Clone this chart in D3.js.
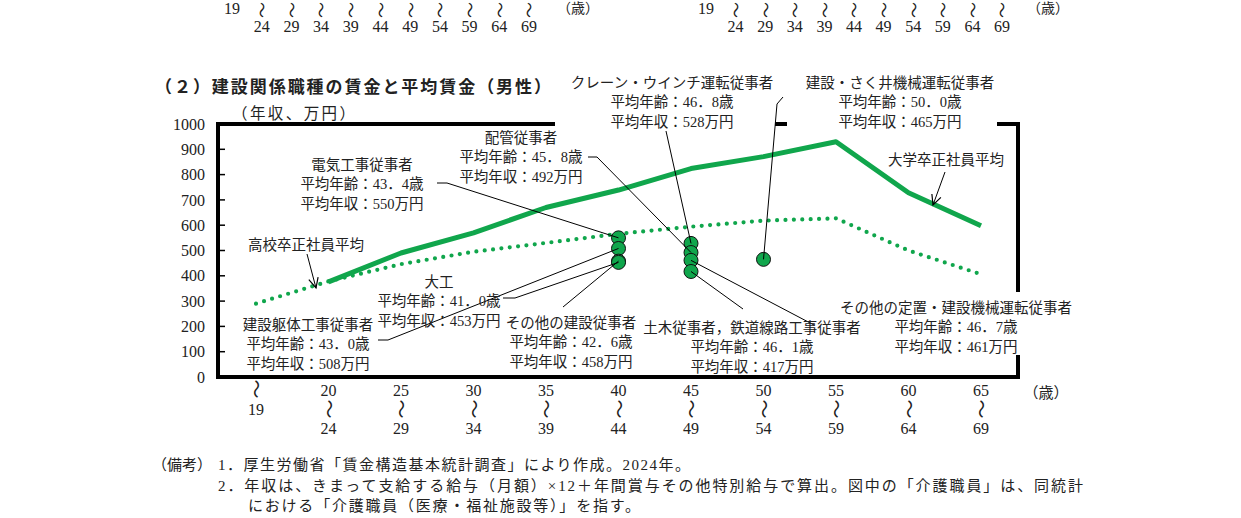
<!DOCTYPE html>
<html><head><meta charset="utf-8">
<script src="https://cdn.jsdelivr.net/npm/d3@7"></script>
<style>
html,body{margin:0;padding:0;background:#fff;overflow:hidden;}
svg{display:block;}
text{font-family:"Liberation Serif","Noto Sans CJK JP",serif;fill:#222;}
</style></head><body>
<svg id="c" width="1241" height="518"></svg>
<script>
// ---------- data ----------
const categories = ["19","20","25","30","35","40","45","50","55","60","65"];
const ageStart = ["", "20","25","30","35","40","45","50","55","60","65"];
const ageEnd   = ["19","24","29","34","39","44","49","54","59","64","69"];
const yTicks = [0,100,200,300,400,500,600,700,800,900,1000];
const univ       = [null,376,490,570,670,739,824,871,930,728,598];
const highschool = [290,378,446,495,530,566,594,618,627,500,406];
const jobs = ["電気工事従事者","建設躯体工事従事者","その他の建設従事者","大工",
  "クレーン・ウインチ運転従事者","配管従事者","その他の定置・建設機械運転従事者",
  "土木従事者，鉄道線路工事従事者","建設・さく井機械運転従事者"];
const jobAge    = ["43．4","43．0","42．6","41．0","46．8","45．8","46．7","46．1","50．0"];
const jobIncome = [550,508,458,453,528,492,461,417,465];
const jobCat    = ["40","40","40","40","45","45","45","45","50"];
const prevStart = "19";
const prevEnds = ["24","29","34","39","44","49","54","59","64","69"];
const footnotes = ["1．厚生労働省「賃金構造基本統計調査」により作成。2024年。",
  "2．年収は、きまって支給する給与（月額）×12＋年間賞与その他特別給与で算出。図中の「介護職員」は、同統計",
  "における「介護職員（医療・福祉施設等）」を指す。"];

// ---------- layout ----------
const GREEN = "#10a64c";
const svg = d3.select("#c");
const x = d3.scalePoint().domain(categories).range([256, 981]);
const y = d3.scaleLinear().domain([0, 1000]).range([377, 124]);
const fs = 14.5;

function tilde(cx, cy, size) {
  svg.append("text").attr("transform",`translate(${cx},${cy}) rotate(90)`).attr("text-anchor","middle")
    .attr("dy","0.35em").attr("font-size",size).style("font-family","'Noto Sans CJK JP'").text("〜");
}

// top strip (previous charts, cut off)
function strip(x0, step, parenX) {
  svg.append("text").attr("x", x0).attr("y", 14).attr("text-anchor","middle").attr("font-size",16).text(prevStart);
  prevEnds.forEach((t,i)=>{
    const cx = x0 + step*(i+1);
    tilde(cx, 10, 16);
    svg.append("text").attr("x", cx).attr("y", 32).attr("text-anchor","middle").attr("font-size",16).text(t);
  });
  svg.append("text").attr("x", parenX).attr("y", 13).attr("text-anchor","middle").attr("font-size",14).text("（歳）");
}
strip(232, 29.7, 578);
strip(706, 29.6, 1048);

// title
svg.append("text").attr("x",155).attr("y",93).attr("font-size",17).attr("font-weight","bold")
  .style("font-family","'Noto Sans CJK JP'").attr("textLength",396).attr("lengthAdjust","spacing")
  .text("（２）建設関係職種の賃金と平均賃金（男性）");
svg.append("text").attr("x",232).attr("y",119).attr("font-size",15.5).attr("textLength",123)
  .attr("lengthAdjust","spacing").text("（年収、万円）");

// y tick labels
svg.append("g").selectAll("text").data(yTicks).join("text")
  .attr("x",205).attr("y",d=>y(d)).attr("dy","0.35em").attr("text-anchor","end").attr("font-size",16).text(d=>d);
// inward ticks
svg.append("g").selectAll("line").data(yTicks.slice(1,-1)).join("line")
  .attr("x1",218).attr("x2",225).attr("y1",d=>y(d)).attr("y2",d=>y(d)).attr("stroke","#000").attr("stroke-width",1.5);

// x tick labels
categories.forEach((c,i)=>{
  const cx = x(c);
  if (i === 0) {
    tilde(cx, 389, 19);
    svg.append("text").attr("x",cx).attr("y",415).attr("text-anchor","middle").attr("font-size",16).text(ageEnd[i]);
  } else {
    svg.append("text").attr("x",cx).attr("y",396).attr("text-anchor","middle").attr("font-size",16).text(ageStart[i]);
    tilde(cx, 409, 19);
    svg.append("text").attr("x",cx).attr("y",434).attr("text-anchor","middle").attr("font-size",16).text(ageEnd[i]);
  }
});
svg.append("text").attr("x",1046).attr("y",398).attr("text-anchor","middle").attr("font-size",15).text("（歳）");

// frame
const frame = svg.append("g").attr("stroke","#000").attr("stroke-width",4).attr("fill","none");
const L = 218, R = 1018, T = y(1000), B = y(0);
[[L,T,L,B],[L-2,B,R+2,B],[L-2,T,555,T],[775,T,787,T],[997,T,R+2,T],[R,T,R,292],[R,355,R,B]]
  .forEach(s=>frame.append("line").attr("x1",s[0]).attr("y1",s[1]).attr("x2",s[2]).attr("y2",s[3]));

// lines
const lineGen = d3.line().defined(d=>d[1]!=null).x(d=>x(d[0])).y(d=>y(d[1]));
svg.append("path").datum(categories.map((c,i)=>[c,highschool[i]])).attr("d",lineGen)
  .attr("fill","none").attr("stroke",GREEN).attr("stroke-width",4.2).attr("stroke-linecap","round")
  .attr("stroke-dasharray","0 8.4");
svg.append("path").datum(categories.map((c,i)=>[c,univ[i]])).attr("d",lineGen)
  .attr("fill","none").attr("stroke",GREEN).attr("stroke-width",5).attr("stroke-linejoin","round");

// points
const idx = jobs.map((d,i)=>i);
svg.append("g").selectAll("circle").data(idx).join("circle")
  .attr("cx",i=>x(jobCat[i])).attr("cy",i=>y(jobIncome[i])).attr("r",7)
  .attr("fill",GREEN).attr("stroke","#111").attr("stroke-width",1);

// labels
const labelPos = [
  {cx:362, y0:165, lead:[[437,183],[447,183]]},
  {cx:308, y0:325, lead:[[378,340],[388,340]]},
  {cx:571, y0:323, lead:[[563,307]]},
  {cx:439, y0:282, lead:[[503,298],[515,298]]},
  {cx:672, y0:83,  lead:[[666,131]]},
  {cx:521, y0:138, lead:[[588,157],[597,157]]},
  {cx:956, y0:308, lead:[[814,325]]},
  {cx:752, y0:328, lead:[[743,309]]},
  {cx:900, y0:83,  lead:[[783,97],[777,104]]}
];
const lineH = 19.3;
idx.forEach(i=>{
  const p = labelPos[i];
  const g = svg.append("g").attr("font-size",fs).attr("text-anchor","middle");
  [jobs[i], "平均年齢：" + jobAge[i] + "歳", "平均年収：" + jobIncome[i] + "万円"].forEach((t,k)=>{
    g.append("text").attr("x",p.cx).attr("y",p.y0 + k*lineH).attr("dy","0.35em").text(t);
  });
  const pts = p.lead.concat([[x(jobCat[i]), y(jobIncome[i])]]);
  svg.append("path").attr("d", d3.line()(pts)).attr("fill","none").attr("stroke","#000").attr("stroke-width",1);
});

// series labels with arrows
function arrow(x1,y1,x2,y2){
  const a = Math.atan2(y2-y1,x2-x1), len = 11, w = 0.45;
  const p = [[x2-len*Math.cos(a-w), y2-len*Math.sin(a-w)],[x2,y2],[x2-len*Math.cos(a+w), y2-len*Math.sin(a+w)]];
  svg.append("line").attr("x1",x1).attr("y1",y1).attr("x2",x2).attr("y2",y2).attr("stroke","#000").attr("stroke-width",1);
  svg.append("path").attr("d",d3.line()(p)).attr("fill","none").attr("stroke","#000").attr("stroke-width",1.2);
}
svg.append("text").attr("x",306).attr("y",245).attr("dy","0.35em").attr("text-anchor","middle").attr("font-size",fs).text("高校卒正社員平均");
arrow(307,254, 316,288);
svg.append("text").attr("x",946).attr("y",160).attr("dy","0.35em").attr("text-anchor","middle").attr("font-size",fs).text("大学卒正社員平均");
arrow(945,172, 933,205);

// footnotes
svg.append("text").attr("x",152).attr("y",470).attr("font-size",15).text("（備考）");
const fnX = [218,218,248], fnY=[470,491,511], fnW=[472,865,392];
footnotes.forEach((t,i)=>{
  svg.append("text").attr("x",fnX[i]).attr("y",fnY[i]).attr("font-size",15)
    .attr("textLength",fnW[i]).attr("lengthAdjust","spacing").text(t);
});
</script>
</body></html>
